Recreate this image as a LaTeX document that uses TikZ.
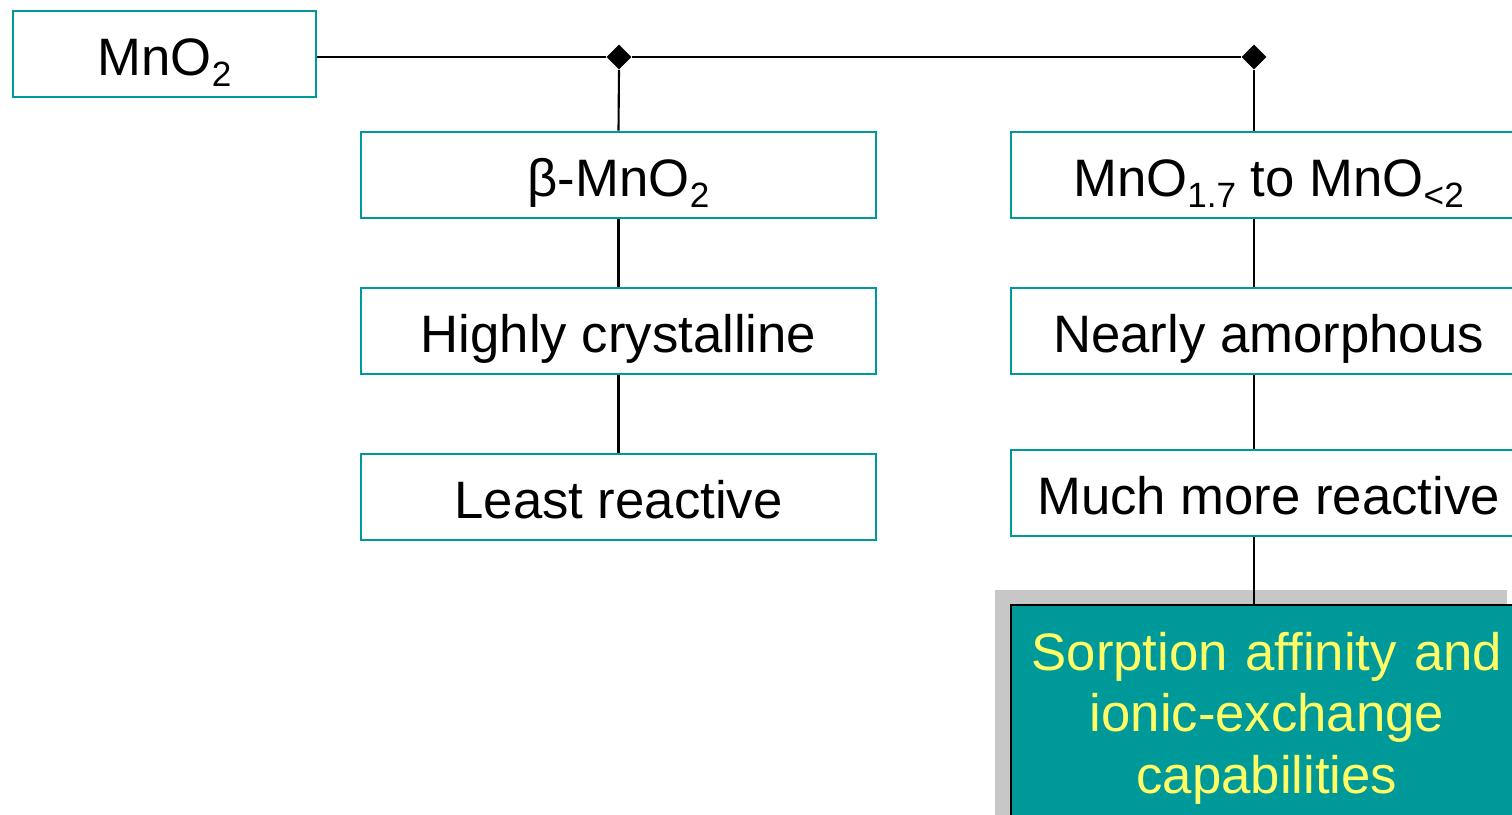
\documentclass[tikz,border=0pt]{standalone}
\usepackage{fontspec}
\setmainfont{Liberation Sans}
\usetikzlibrary{shapes.geometric,shadows}
\definecolor{boxteal}{RGB}{0,153,153}
\definecolor{textyellow}{RGB}{255,255,102}
\newcommand{\lowidx}[1]{\raisebox{-0.22em}{\fontsize{20}{20}\selectfont #1}}

\begin{document}
\begin{tikzpicture}[x=0.02cm,y=-0.02cm,
  every node/.style={font=\fontsize{30}{35}\selectfont},
  box/.style={draw=boxteal,line width=1.6pt,minimum width=10.3cm,minimum height=1.72cm,inner sep=0pt,
    text height=26pt,text depth=2pt},
  result/.style={draw=black,line width=1.4pt,fill=boxteal,text=textyellow,align=center,
    text width=10cm,minimum width=10.24cm,minimum height=4.52cm,inner sep=0pt,
    drop shadow={shadow xshift=-0.32cm,shadow yshift=0.3cm,fill=black!22,opacity=1}},
  junction/.style={diamond,fill=black,minimum size=0.5cm,inner sep=0pt},
  link/.style={line width=1.2pt}]
\useasboundingbox (0,0) rectangle (1512,815);
\clip (0,0) rectangle (1512,815);
\node[box,minimum width=6.06cm] (mno2) at (164.5,54) {MnO\lowidx{2}};
\node[junction] (jl) at (619,57) {};
\node[junction] (jr) at (1254,57) {};
\node[box] (beta) at (618.5,175) {β-MnO\lowidx{2}};
\node[box] (cryst) at (618.5,331) {Highly crystalline};
\node[box] (least) at (618.5,497) {Least reactive};
\node[box] (nonstoich) at (1268.5,175) {MnO\lowidx{1.7} to MnO\lowidx{<2}};
\node[box] (amorph) at (1268.5,331) {Nearly amorphous};
\node[box] (much) at (1268.5,493) {Much more reactive};
\node[result] (sorp) at (1267,718) {Sorption affinity and\\ionic-exchange\\capabilities};
\draw[link] (mno2.east |- jl.west) -- (jl.west);
\draw[link] (jl.east) -- (jr.west);
\draw[link] (jl.south) -- (beta.north);
\draw[link] (beta.south) -- (cryst.north);
\draw[link] (cryst.south) -- (least.north);
\draw[link] (jr.south) -- (jr |- nonstoich.north);
\draw[link] (jr |- nonstoich.south) -- (jr |- amorph.north);
\draw[link] (jr |- amorph.south) -- (jr |- much.north);
\draw[link] (jr |- much.south) -- (jr |- sorp.north);
\end{tikzpicture}
\end{document}
